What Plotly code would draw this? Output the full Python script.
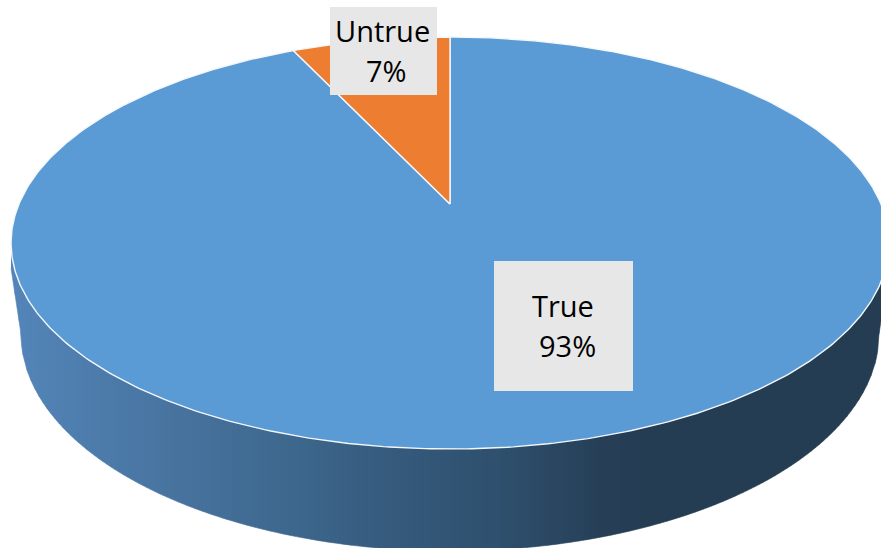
import numpy as np
import plotly.graph_objects as go

# Data
categories = ["True", "Untrue"]
values = [93, 7]
colors = ["#5b9bd5", "#ed7d31"]

W, H = 881, 548

# Projection of the pie's unit disc onto the page (perspective view)
CX, APEX_Y, PERSP, KV, KU = 450.0, 204.0, 0.1893, -160.0, 431.0
# Lower rim of the pie wall
LOW_RX, LOW_CY, LOW_RY = 429.0, 334.0, 217.0
TOP_RX, WALL_START_Y = 439.0, 268.0
TOP_CY = 243.0


def project(theta):
    u, v = np.sin(theta), np.cos(theta)
    den = PERSP * v + 1
    return CX + KU * u / den, (KV * v + APEX_Y) / den


def wedge(start, end):
    t = np.linspace(start, end, max(int((end - start) * 90), 8))
    x, y = project(t)
    return np.r_[CX, x, CX], np.r_[APEX_Y, y, APEX_Y]


def wall_bottom(dx):
    dx = np.abs(dx)
    inner = LOW_CY + LOW_RY * np.sqrt(np.clip(1 - (dx / LOW_RX) ** 2, 0, 1))
    outer = LOW_CY + (WALL_START_Y - LOW_CY) * (dx - LOW_RX) / (TOP_RX - LOW_RX)
    return np.where(dx <= LOW_RX, inner, outer)


grad_x = [11, 100, 200, 300, 400, 500, 600, 660, 890]
grad_c = [(84, 134, 186), (77, 124, 171), (70, 113, 155), (61, 103, 140),
          (53, 90, 124), (47, 80, 110), (39, 64, 88), (36, 61, 82), (36, 61, 82)]


def wall_color(x):
    return "rgb(%d,%d,%d)" % tuple(np.interp(x, grad_x, [c[i] for c in grad_c]) for i in range(3))


fig = go.Figure()

# Side wall as narrow shaded strips
edges = np.arange(11, 890, 4.0)
for a, b in zip(edges[:-1], edges[1:]):
    xs = np.linspace(a, b, 4)
    yb = wall_bottom(xs - CX)
    fig.add_trace(go.Scatter(
        x=np.r_[xs, xs[::-1]], y=np.r_[np.full(4, TOP_CY), yb[::-1]],
        mode="lines", fill="toself", fillcolor=wall_color((a + b) / 2),
        line=dict(color=wall_color((a + b) / 2), width=0.6),
        hoverinfo="skip", showlegend=False))

# Top surface: slices measured clockwise; Untrue ends at 12 o'clock
total = sum(values)
a_untrue = 2 * np.pi * values[1] / total
spans = {"Untrue": (2 * np.pi - a_untrue, 2 * np.pi), "True": (0.0, 2 * np.pi - a_untrue)}
for cat, col in zip(categories, colors):
    x, y = wedge(*spans[cat])
    fig.add_trace(go.Scatter(
        x=x, y=y, mode="lines", fill="toself", fillcolor=col,
        line=dict(color="#f4f7fb", width=1.4), name=cat,
        hoverinfo="skip", showlegend=False))

# Data labels
boxes = [dict(x0=494, x1=633, y0=261, y1=391), dict(x0=330, x1=437, y0=7, y1=95)]
label_pos = [((563, 305), (567, 345)), ((382, 30), (386, 70))]
shapes = [dict(type="rect", layer="above", fillcolor="#e7e7e7", line=dict(width=0), **b) for b in boxes]
annotations = []
for cat, val, (p1, p2) in zip(categories, values, label_pos):
    for txt, p in ((cat, p1), (f"{val}%", p2)):
        annotations.append(dict(x=p[0], y=p[1], text=txt, showarrow=False,
                                xanchor="center", yanchor="middle",
                                font=dict(family="Open Sans", size=29, color="#000000")))

fig.update_layout(
    width=W, height=H, margin=dict(l=0, r=0, t=0, b=0),
    paper_bgcolor="white", plot_bgcolor="white", showlegend=False,
    xaxis=dict(range=[0, W], visible=False, fixedrange=True),
    yaxis=dict(range=[H, 0], visible=False, fixedrange=True),
    shapes=shapes, annotations=annotations,
)
fig.write_html("out.html", config=dict(displayModeBar=False),
               post_script="document.body.style.margin='0';document.body.style.overflow='hidden';")
